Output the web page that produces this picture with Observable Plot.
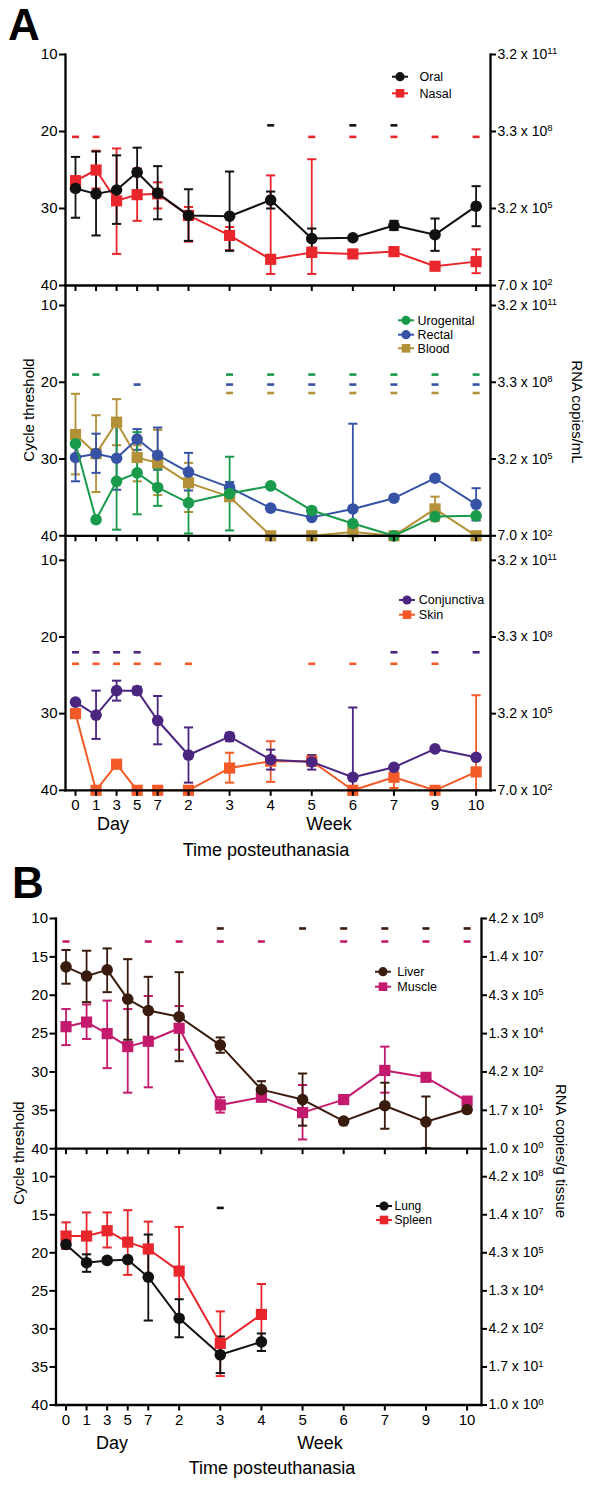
<!DOCTYPE html>
<html><head><meta charset="utf-8">
<script src="https://cdn.jsdelivr.net/npm/d3@7"></script>
<script src="https://cdn.jsdelivr.net/npm/@observablehq/plot@0.6"></script>
<style>
body{margin:0;background:#fff;}
#root{position:relative;width:600px;height:1491px;overflow:hidden;background:#fff;font-family:"Liberation Sans",Arial,Helvetica,sans-serif;}
</style></head><body><div id="root"></div>
<script>
// ---- time axis (categories) ----
const timeLabels = ["0","1","3","5","7","2","3","4","5","6","7","9","10"];
const timeSlot   = [0,0.5,1,1.5,2,2.75,3.75,4.75,5.75,6.75,7.75,8.75,9.75];

// ---- left / right axis ticks ----
const ctTicksA = [10,20,30,40];
const rnaLabelsA = ["3.2 x 10^11","3.3 x 10^8","3.2 x 10^5","7.0 x 10^2"];
const ctTicksB = [10,15,20,25,30,35,40];
const rnaLabelsB = ["4.2 x 10^8","1.4 x 10^7","4.3 x 10^5","1.3 x 10^4","4.2 x 10^2","1.7 x 10^1","1.0 x 10^0"];

// ---- A: swabs / blood (Ct mean, error low, error high, flag dashes) ----
const oralCt  = [27.4,28.1,27.6,25.3,28.0,30.9,31.0,28.9,33.9,33.8,32.2,33.4,29.7];
const oralLo  = [23.3,22.6,23.1,22.1,24.5,27.5,25.2,27.8,32.6,null,31.6,31.3,27.1];
const oralHi  = [31.2,33.5,32.0,28.6,31.4,34.2,35.5,30.0,35.1,null,32.8,35.5,32.3];
const oralFlag = [0,0,0,0,0,0,0,1,0,1,1,0,0]; const oralFlagCt = 19.2;

const nasalCt = [26.4,25.0,29.0,28.2,28.1,30.9,33.5,36.6,35.7,35.9,35.6,37.5,36.9];
const nasalLo = [25.8,22.5,22.2,24.8,26.6,29.8,32.4,25.7,23.6,null,35.2,null,35.3];
const nasalHi = [27.0,27.4,35.9,31.6,30.0,34.3,35.4,38.5,38.5,null,36.0,null,38.4];
const nasalFlag = [1,1,0,0,0,0,0,0,1,1,1,1,1]; const nasalFlagCt = 20.7;

const urogCt = [28.0,37.9,32.9,31.8,33.7,35.7,34.5,33.5,36.7,38.4,40.0,37.5,37.4];
const urogLo = [null,null,25.2,26.5,31.3,31.7,29.7,null,null,null,null,37.1,null];
const urogHi = [null,null,39.2,37.2,36.1,39.7,39.3,null,null,null,null,37.9,null];
const urogFlag = [1,1,0,0,0,0,1,1,1,1,1,1,1]; const urogFlagCt = 19.0;

const rectCt = [29.8,29.3,29.9,27.4,29.5,31.7,33.7,36.4,37.6,36.5,35.1,32.5,35.9];
const rectLo = [26.5,26.7,25.5,26.1,25.9,29.2,33.0,null,null,25.4,null,null,33.8];
const rectHi = [32.9,31.8,34.0,28.8,31.4,34.1,34.3,null,null,40.0,null,null,38.0];
const rectFlag = [0,0,0,1,0,0,1,1,1,1,1,1,1]; const rectFlagCt = 20.3;

const bloodCt = [26.8,29.3,25.2,29.8,30.5,33.1,34.9,40.0,40.0,39.5,40.0,36.5,40.0];
const bloodLo = [21.5,24.3,22.2,28.2,26.2,30.5,null,null,null,null,null,34.9,null];
const bloodHi = [32.0,34.3,28.2,32.9,34.7,36.9,null,null,null,null,null,38.1,null];
const bloodFlag = [0,0,0,0,0,0,1,1,1,1,1,1,1]; const bloodFlagCt = 21.4;

const conjCt = [28.5,30.2,27.0,27.0,30.9,35.4,33.0,36.0,36.3,38.3,37.0,34.6,35.7];
const conjLo = [null,27.0,25.7,26.5,27.7,31.8,32.5,34.7,35.4,29.2,null,null,null];
const conjHi = [null,33.3,28.3,27.5,34.0,39.0,33.6,37.3,37.3,39.9,null,null,null];
const conjFlag = [1,1,1,1,0,0,0,0,0,0,1,1,1]; const conjFlagCt = 22.0;

const skinCt = [30.0,40.0,36.6,40.0,40.0,40.0,37.1,36.2,36.2,40.0,38.3,40.0,37.6];
const skinLo = [null,null,null,null,null,null,35.1,33.6,35.6,null,37.0,null,27.6];
const skinHi = [null,null,null,null,null,null,39.0,38.9,36.8,null,39.7,null,40.0];
const skinFlag = [1,1,1,1,1,1,0,0,1,1,1,1,0]; const skinFlagCt = 23.5;

// ---- B: tissues ----
const liverCt = [16.3,17.5,16.7,20.5,22.0,22.8,26.5,32.3,33.6,36.4,34.4,36.5,34.9];
const liverLo = [14.1,14.2,13.9,15.3,17.6,17.0,25.5,31.2,30.2,null,31.4,33.2,34.5];
const liverHi = [18.5,20.9,19.6,25.8,26.1,28.6,27.5,33.3,37.0,null,37.4,39.9,35.3];
const liverFlag = [0,0,0,0,0,0,1,0,1,1,1,1,1]; const liverFlagCt = 11.3;

const muscleCt = [24.1,23.5,25.0,26.7,26.0,24.3,34.3,33.3,35.3,33.6,29.8,30.7,33.8];
const muscleLo = [21.8,21.2,20.7,21.8,20.1,21.4,33.3,32.9,31.7,null,26.7,null,null];
const muscleHi = [26.5,25.7,29.5,32.7,32.0,27.1,35.3,33.7,38.8,null,32.7,null,null];
const muscleFlag = [1,0,0,0,1,1,1,1,0,1,1,1,1]; const muscleFlagCt = 13.0;

const lungCt = [18.9,21.3,21.0,20.9,23.2,28.6,33.4,31.7,null,null,null,null,null];
const lungLo = [18.4,20.2,null,null,17.6,26.1,31.0,30.6,null,null,null,null,null];
const lungHi = [19.4,22.5,null,null,28.9,31.1,35.8,32.9,null,null,null,null,null];
const lungFlag = [0,0,0,0,0,0,1,0,0,0,0,0,0]; const lungFlagCt = 14.1;

const spleenCt = [17.8,17.8,17.1,18.6,19.5,22.4,31.9,28.1,null,null,null,null,null];
const spleenLo = [16.0,14.7,14.7,14.4,15.9,16.6,27.7,24.1,null,null,null,null,null];
const spleenHi = [19.5,20.9,19.3,22.9,23.3,28.3,36.2,32.0,null,null,null,null,null];
const spleenFlag = [0,0,0,0,0,0,0,0,0,0,0,0,0]; const spleenFlagCt = 14.1;

// ---- series styles ----
const S = (name, ct, lo, hi, flag, flagCt, color, symbol) => ({name, ct, lo, hi, flag, flagCt, color, symbol});
const oral   = S("Oral", oralCt, oralLo, oralHi, oralFlag, oralFlagCt, "#111111", "circle");
const nasal  = S("Nasal", nasalCt, nasalLo, nasalHi, nasalFlag, nasalFlagCt, "#e8262b", "square");
const uro    = S("Urogenital", urogCt, urogLo, urogHi, urogFlag, urogFlagCt, "#1a9b4b", "circle");
const rect   = S("Rectal", rectCt, rectLo, rectHi, rectFlag, rectFlagCt, "#3652a5", "circle");
const blood  = S("Blood", bloodCt, bloodLo, bloodHi, bloodFlag, bloodFlagCt, "#b39138", "square");
const conj   = S("Conjunctiva", conjCt, conjLo, conjHi, conjFlag, conjFlagCt, "#4a2681", "circle");
const skin   = S("Skin", skinCt, skinLo, skinHi, skinFlag, skinFlagCt, "#f35a28", "square");
const liver  = S("Liver", liverCt, liverLo, liverHi, liverFlag, liverFlagCt, "#3a1c0f", "circle");
const muscle = S("Muscle", muscleCt, muscleLo, muscleHi, muscleFlag, muscleFlagCt, "#c31a6d", "square");
const lung   = S("Lung", lungCt, lungLo, lungHi, lungFlag, lungFlagCt, "#111111", "circle");
const spleen = S("Spleen", spleenCt, spleenLo, spleenHi, spleenFlag, spleenFlagCt, "#e8262b", "square");

// ---- layout ----
const panels = [
  {series:[oral,nasal], left:65, right:490, frameTop:54, ct10:54, ct40:285, ticks:ctTicksA, rna:rnaLabelsA, xlab:false,
   legend:{cx:400, tx:419.5, ys:[76.7,93.3], fs:12.5}},
  {series:[uro,rect,blood], left:65, right:490, frameTop:285, ct10:305, ct40:535.3, ticks:ctTicksA, rna:rnaLabelsA, xlab:false,
   legend:{cx:406, tx:417.6, ys:[320.3,334.7,348.3], fs:12.5}},
  {series:[conj,skin], left:65, right:490, frameTop:535.5, ct10:559.3, ct40:789.3, ticks:ctTicksA, rna:rnaLabelsA, xlab:true,
   legend:{cx:407, tx:418.8, ys:[600,614.7], fs:12.5}},
  {series:[liver,muscle], left:55.5, right:481, frameTop:918.3, ct10:918.3, ct40:1148.5, ticks:ctTicksB, rna:rnaLabelsB, xlab:false,
   legend:{cx:383, tx:397.3, ys:[971.7,986.7], fs:12.5}},
  {series:[lung,spleen], left:55.5, right:481, frameTop:1148.5, ct10:1175.7, ct40:1404, ticks:ctTicksB, rna:rnaLabelsB, xlab:true,
   legend:{cx:384, tx:394.6, ys:[1206,1220], fs:12}}
];

const root = document.getElementById("root");
const FONT = '"Liberation Sans", Arial, Helvetica, sans-serif';
const capSym  = {draw(ctx){ ctx.moveTo(-4.6,0); ctx.lineTo(4.6,0); }};
const flagSym = {draw(ctx){ ctx.rect(-3.5,-1.3,7,2.6); }};

function rowsOf(s){
  return timeSlot.map((slot,i)=>({slot, ct:s.ct[i], lo:s.lo[i], hi:s.hi[i], flag:s.flag[i], flagCt:s.flagCt}));
}

function supify(svg){
  svg.querySelectorAll("text").forEach(t=>{
    if (t.children.length === 0 && t.textContent.includes("^")) {
      const [base, exp] = t.textContent.split("^");
      t.textContent = base;
      const ts = document.createElementNS("http://www.w3.org/2000/svg","tspan");
      ts.setAttribute("dy","-0.5em"); ts.setAttribute("font-size","0.68em");
      ts.textContent = exp; t.appendChild(ts);
    }
  });
}

panels.forEach(p=>{
  const mt = 15, mb = p.xlab ? 40 : 15;
  const svgTop = p.frameTop - mt;
  const height = mt + (p.ct40 - p.frameTop) + mb;
  const marks = [];
  const order = p.series.slice().reverse();
  order.forEach(s=>{
    const rows = rowsOf(s);
    const eb = rows.filter(r=>r.lo!=null && r.hi!=null);
    marks.push(Plot.ruleX(eb, {x:"slot", y1:"lo", y2:"hi", stroke:s.color, strokeWidth:1.8}));
    marks.push(Plot.dot(eb, {x:"slot", y:"lo", symbol:capSym, stroke:s.color, strokeWidth:2, fill:"none"}));
    marks.push(Plot.dot(eb, {x:"slot", y:"hi", symbol:capSym, stroke:s.color, strokeWidth:2, fill:"none"}));
    marks.push(Plot.dot(rows.filter(r=>r.flag), {x:"slot", y:"flagCt", symbol:flagSym, fill:s.color, stroke:"none"}));
  });
  order.forEach(s=>{
    const rows = rowsOf(s).filter(r=>r.ct!=null);
    marks.push(Plot.line(rows, {x:"slot", y:"ct", stroke:s.color, strokeWidth:2}));
    marks.push(Plot.dot(rows, {x:"slot", y:"ct", symbol:s.symbol, r: s.symbol==="square"?6.3:5.8, fill:s.color, stroke:"none"}));
  });
  marks.push(Plot.frame({anchor:"left", strokeWidth:2.3, stroke:"#000"}));
  marks.push(Plot.frame({anchor:"right", strokeWidth:2.3, stroke:"#000"}));
  marks.push(Plot.frame({anchor:"bottom", strokeWidth:2.3, stroke:"#000"}));
  marks.push(Plot.axisY({anchor:"left", ticks:p.ticks, tickSize:6, tickPadding:2, strokeWidth:2, label:null, fontSize:15}));
  marks.push(Plot.axisY({anchor:"right", ticks:p.ticks, tickSize:5, tickPadding:2, strokeWidth:2, label:null, fontSize:14,
                         tickFormat: d => p.rna[p.ticks.indexOf(d)]}));
  marks.push(Plot.axisX({anchor:"bottom", ticks:timeSlot, tickSize:6, tickPadding:3, strokeWidth:2, label:null, fontSize:15,
                         tickFormat: d => p.xlab ? timeLabels[timeSlot.indexOf(d)] : ""}));
  const chart = Plot.plot({
    width:600, height, marginTop:mt, marginBottom:mb, marginLeft:p.left, marginRight:600-p.right,
    style:{background:"transparent", overflow:"visible", fontFamily:FONT, fontSize:"15px", color:"#000"},
    x:{domain:[-10/41.08, 10.10]},
    y:{domain:[10,40], range:[mt + (p.ct10-p.frameTop), mt + (p.ct40-p.frameTop)]},
    marks
  });
  supify(chart);
  chart.style.position="absolute"; chart.style.left="0px"; chart.style.top=svgTop+"px";
  root.appendChild(chart);
});

// ---- annotation overlay: panel letters, titles, legends ----
const ov = d3.create("svg").attr("width",600).attr("height",1491)
  .style("position","absolute").style("left","0px").style("top","0px")
  .style("font-family",FONT).style("pointer-events","none");
function txt(x,y,s,opt={}){
  const t = ov.append("text").attr("x",x).attr("y",y).text(s)
    .attr("font-size",opt.fs||15).attr("fill","#000").attr("text-anchor",opt.anchor||"start");
  if (opt.bold) t.attr("font-weight","bold");
  if (opt.rot) t.attr("transform",`rotate(${opt.rot},${x},${y})`).attr("dy","0.35em");
  return t;
}
txt(8,40,"A",{fs:44,bold:true});
txt(12,898,"B",{fs:44,bold:true});
txt(29,410,"Cycle threshold",{anchor:"middle",rot:-90});
txt(577,412,"RNA copies/mL",{anchor:"middle",rot:90});
txt(18.5,1153,"Cycle threshold",{anchor:"middle",rot:-90});
txt(561,1151,"RNA copies/g tissue",{anchor:"middle",rot:90});
txt(113,830,"Day",{anchor:"middle",fs:18});
txt(329,830,"Week",{anchor:"middle",fs:18});
txt(266,856,"Time posteuthanasia",{anchor:"middle",fs:18});
txt(112,1449,"Day",{anchor:"middle",fs:18});
txt(320,1449,"Week",{anchor:"middle",fs:18});
txt(272,1474,"Time posteuthanasia",{anchor:"middle",fs:18});

panels.forEach(p=>{
  const L = p.legend;
  p.series.forEach((s,i)=>{
    const y = L.ys[i];
    ov.append("line").attr("x1",L.cx-8).attr("x2",L.cx+8).attr("y1",y).attr("y2",y)
      .attr("stroke",s.color).attr("stroke-width",2);
    if (s.symbol==="circle") ov.append("circle").attr("cx",L.cx).attr("cy",y).attr("r",4.6).attr("fill",s.color);
    else ov.append("rect").attr("x",L.cx-4.3).attr("y",y-4.3).attr("width",8.6).attr("height",8.6).attr("fill",s.color);
    txt(L.tx, y+4.4, s.name, {fs:L.fs});
  });
});
root.appendChild(ov.node());
</script></body></html>
